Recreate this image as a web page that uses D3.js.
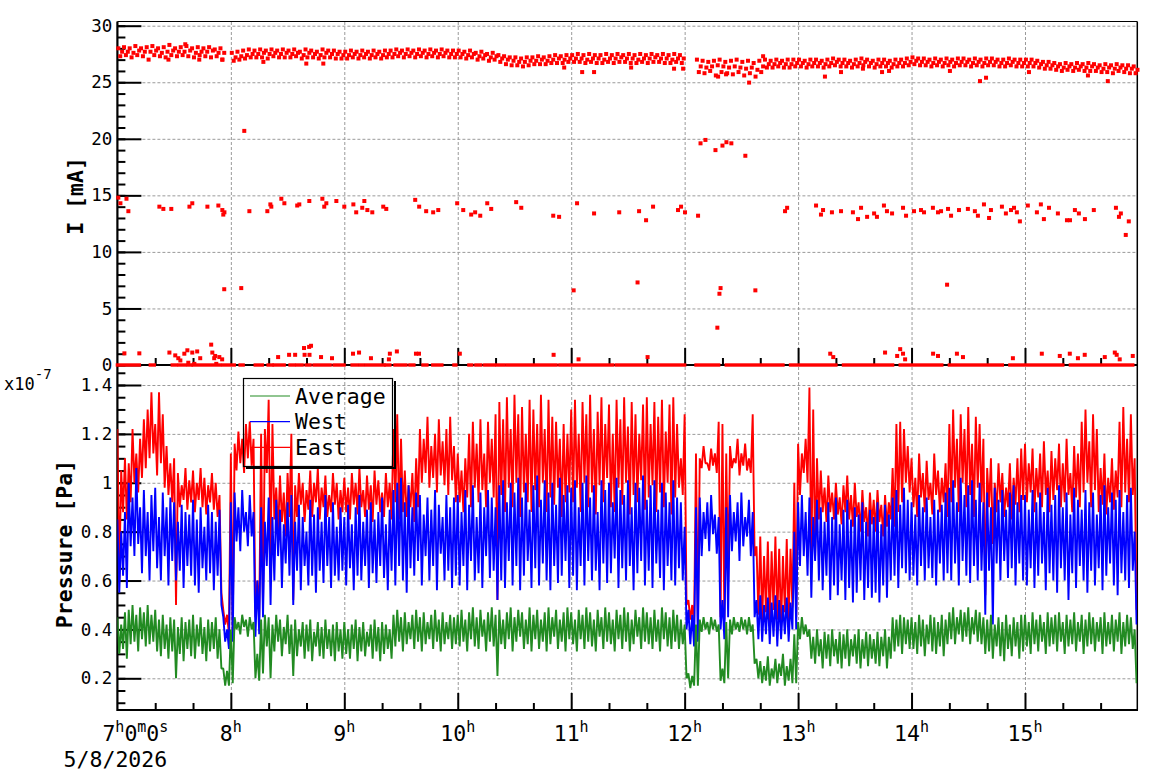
<!DOCTYPE html>
<html>
<head>
<meta charset="utf-8">
<script src="https://d3js.org/d3.v7.min.js"></script>
<style>
body { margin: 0; background: #fff; }
svg { display: block; font-family: "DejaVu Sans Mono", monospace; }
.grid line { stroke: #9a9a9a; stroke-width: 1; stroke-dasharray: 3,2; }
.grid .domain { display: none; }
</style>
</head>
<body>
<div id="chart"></div>
<script>
// time in minutes after 07:00:00, 5/8/2026
const hourTicks = [60, 120, 180, 240, 300, 360, 420, 480];
const hourLabels = ["8", "9", "10", "11", "12", "13", "14", "15"];
const minorTimeTicks = [20, 40, 80, 100, 140, 160, 200, 220, 260, 280, 320, 340, 380, 400, 440, 460, 500, 520];
const currentTicks = [0, 5, 10, 15, 20, 25, 30];
const pressureTicks = [0.2, 0.4, 0.6, 0.8, 1, 1.2, 1.4];

// pressure, 2-minute buckets, max / min of each bucket, in 1e-9 Pa
const eastHi = [
  122,105,110,108,122,112,118,126,130,137, 124,137,128,115,108,110,104,99,106,101, 105,100,106,102,99,104,100,95,48,46,
  112,116,121,118,124,125,118,60,120,122, 134,124,98,103,96,104,120,99,104,100, 97,105,100,106,98,103,95,104,100,97,
  102,98,104,100,106,97,103,99,105,101, 96,104,100,122,128,118,105,99,104,110, 122,118,127,115,120,126,117,122,127,115,
  112,105,110,120,125,116,126,112,125,118, 128,133,126,135,122,136,128,131,120,134, 130,124,136,122,134,127,125,118,124,120,
  130,134,120,133,128,136,122,129,135,124, 132,120,134,126,135,123,133,128,120,132, 135,124,133,127,134,121,132,135,124,110,
  128,52,50,112,110,115,108,114,112,125, 124,112,115,110,118,112,116,110,128,74, 78,70,76,72,78,73,70,77,73,100,
  116,112,118,139,130,110,105,98,103,96, 100,94,99,103,95,100,92,97,90,96, 93,97,91,95,92,106,124,125,122,115,
  110,102,112,104,109,100,112,105,102,108, 124,130,118,128,122,131,116,127,124,118, 106,110,100,108,104,98,108,102,110,114,
  116,108,114,106,112,117,105,113,110,116, 108,118,104,115,112,125,130,117,128,122, 106,112,102,110,105,125,131,118,128,110
];
const eastLo = [
  60,88,85,92,100,96,102,106,110,112, 103,108,98,95,92,50,90,93,89,92, 88,93,90,87,92,89,86,55,42,38,
  40,105,108,104,110,107,45,45,50,104, 70,85,80,84,78,86,52,86,91,84, 89,86,92,85,90,86,88,91,85,88,
  88,85,91,87,90,86,89,84,91,88, 86,90,85,92,85,88,86,90,84,90, 100,104,98,102,96,103,99,95,101,92,
  92,88,94,90,98,92,97,90,100,94, 52,95,88,98,90,100,86,96,92,88, 97,90,100,88,94,91,98,86,92,96,
  92,98,88,100,90,96,87,99,92,102, 90,88,98,91,100,87,95,92,101,89, 94,99,88,96,90,100,87,94,98,95,
  50,44,42,42,106,108,105,107,104,45, 44,60,106,108,103,107,105,104,70,46, 43,47,42,48,44,41,47,43,49,45,
  95,104,100,66,70,85,88,84,88,85, 87,83,88,85,82,86,80,84,78,83, 80,84,78,82,85,82,88,92,100,96,
  90,86,94,88,93,87,95,88,92,86, 92,98,88,100,90,95,86,98,92,54, 90,75,88,92,86,90,85,91,88,93,
  92,96,88,94,90,95,88,93,97,90, 92,95,88,94,90,96,100,90,97,88, 91,87,92,89,94,90,96,92,95,48
];
const westHi = [
  85,80,88,100,94,106,90,97,88,95, 98,86,96,90,94,92,84,91,88,87, 93,85,90,82,91,88,84,89,45,40,
  92,96,90,97,88,95,88,60,90,84, 94,86,93,89,83,92,95,84,91,86, 80,93,87,90,84,95,86,92,82,90,
  86,91,83,90,95,84,89,92,85,88, 94,83,89,97,100,102,92,99,90,96, 95,87,94,89,97,91,86,95,90,94,
  95,88,97,91,99,86,96,90,97,94, 90,99,101,92,100,96,102,94,100,89, 99,103,93,101,96,100,91,102,95,99,
  98,101,90,100,103,94,99,88,101,97, 100,92,102,97,95,101,90,100,98,103, 93,99,101,89,100,96,92,101,94,92,
  82,48,46,90,94,88,92,95,87,86, 52,90,95,88,92,96,86,93,88,52, 54,50,53,51,54,52,50,53,51,80,
  92,95,88,94,86,93,90,84,92,86, 94,83,89,93,85,90,87,92,84,89, 86,92,83,91,87,94,97,91,98,93,
  92,87,95,90,94,86,93,89,91,96, 98,101,92,102,95,99,101,93,100,92, 96,90,98,93,97,89,96,99,92,95,
  95,89,97,92,96,88,98,91,95,99, 90,96,87,98,93,89,97,92,96,87, 95,99,90,96,93,97,88,95,98,80
];
const westLo = [
  55,62,57,74,70,75,63,70,60,72, 65,60,70,58,68,60,64,57,66,62, 58,55,65,60,63,56,62,50,35,32,
  35,76,72,80,74,78,37,38,45,66, 50,60,70,57,67,62,50,64,56,66, 58,62,55,64,59,66,57,62,60,64,
  58,65,56,62,60,66,57,63,59,66, 61,56,64,58,66,60,55,65,62,68, 58,70,60,66,56,71,60,64,57,62,
  58,66,56,68,60,63,57,70,61,64, 52,60,57,68,58,66,56,62,68,57, 65,58,67,60,56,66,59,62,68,57,
  62,56,66,58,68,60,64,56,67,59, 63,69,57,65,60,66,56,63,68,58, 64,57,67,61,56,66,60,58,65,60,
  40,34,33,35,70,77,72,79,71,40, 36,45,72,76,68,74,78,70,45,36, 35,38,34,37,33,36,38,35,40,40,
  66,70,62,53,68,60,56,62,52,58, 54,60,52,57,51,55,60,52,57,53, 55,51,58,53,60,62,57,65,63,60,
  62,58,66,60,65,61,58,67,60,63, 60,67,58,68,62,59,66,60,64,46, 64,42,67,60,68,61,65,58,67,60,
  58,65,57,62,67,56,63,60,55,65, 60,52,63,57,66,60,55,64,58,65, 56,62,67,58,54,63,60,57,64,42
];
const avgHi = [
  45,42,47,48,50,46,49,47,50,46, 48,44,46,42,45,44,41,45,43,44, 46,42,45,41,44,43,45,40,24,23,
  40,45,43,46,44,45,43,30,44,46, 45,42,46,44,41,46,42,44,40,43, 42,44,39,43,41,44,40,42,43,40,
  43,40,42,44,41,43,39,42,44,41, 43,42,40,46,48,45,47,43,46,48, 45,47,43,46,48,44,47,43,46,45,
  46,48,44,47,49,45,48,44,47,49, 46,48,44,47,49,45,48,47,44,49, 46,48,44,47,49,45,48,44,47,49,
  47,44,48,46,49,47,44,48,45,49, 47,44,48,46,49,47,44,48,45,49, 47,45,48,44,49,47,45,48,46,44,
  42,22,21,42,44,45,43,45,44,42, 24,43,44,45,43,45,44,45,42,28, 27,25,29,24,28,26,30,25,28,38,
  43,45,42,40,37,40,36,39,38,40, 36,39,38,40,36,38,40,36,39,38, 36,39,37,40,37,45,44,46,45,44,
  45,43,46,44,42,46,45,43,46,44, 47,49,45,48,47,49,45,48,47,45, 44,46,42,45,43,46,42,45,43,46,
  46,43,47,44,46,43,47,45,46,47, 43,46,44,47,43,46,44,47,45,43, 45,47,43,46,44,47,43,46,45,40
];
const avgLo = [
  30,32,28,34,35,31,36,33,34,35, 31,29,32,28,31,20,30,27,32,29, 28,33,30,27,31,32,28,24,17,17,
  18,40,38,41,37,40,20,19,22,33, 20,31,35,29,34,30,21,29,33,28, 31,27,33,29,28,32,29,27,31,28,
  30,28,32,27,31,29,33,28,31,27, 30,32,28,33,35,31,34,36,32,35, 31,34,36,32,35,31,34,36,32,34,
  33,35,31,36,33,32,37,31,35,33, 21,34,32,36,31,35,37,32,34,31, 36,32,35,31,34,37,32,35,31,36,
  34,31,36,32,35,33,31,37,32,35, 34,31,36,32,35,31,34,37,32,35, 34,32,35,31,36,33,32,35,32,34,
  20,16,17,17,39,40,38,40,39,19, 18,20,38,40,39,40,38,39,26,20, 18,19,17,20,18,21,17,19,18,18,
  36,38,37,28,26,29,24,28,25,29, 26,24,28,25,29,26,24,28,25,28, 26,25,29,24,28,31,33,30,34,32,
  32,30,33,29,34,31,30,33,29,34, 36,34,38,35,37,34,38,35,34,30, 31,28,33,29,27,32,29,33,28,31,
  33,30,34,31,35,30,33,34,31,35, 30,33,34,31,35,30,33,34,31,35, 30,33,34,31,35,30,33,34,32,18
];

// beam current, 3-minute buckets: upper / middle / lower reading of the main band (mA)
const bandHi = [
  28.0,28.1,28.0,28.2,28.0,28.1,28.2,28.0,28.1,28.3, 28.0,28.1,28.2,28.0,28.1,28.0,28.1,27.9,28.0,null,
  27.6,27.7,27.8,27.9,27.8,27.9,27.8,27.9,27.8,27.9, 27.8,27.9,27.7,27.9,27.8,27.7,27.9,27.8,27.8,27.7,
  27.7,27.8,27.7,27.8,27.7,27.8,27.7,27.8,27.8,27.9, 27.8,27.9,27.8,27.9,27.8,27.9,27.8,27.9,27.8,27.8,
  27.8,27.7,27.8,27.6,27.7,27.5,27.6,27.4,27.3,27.2, 27.2,27.1,27.2,27.2,27.3,27.2,27.3,27.4,27.3,27.4,
  27.4,27.5,27.4,27.5,27.4,27.4,27.5,27.4,27.5,27.4, 27.5,27.4,27.5,27.4,27.5,27.4,27.5,27.4,27.5,27.4,
  null,null,27.0,26.9,26.8,26.9,27.0,26.8,26.9,27.0, 26.8,26.9,26.7,26.9,27.0,26.9,27.0,26.9,27.0,27.0,
  27.0,26.9,27.0,27.0,26.9,27.0,27.1,27.0,27.0,26.9, 27.0,27.1,27.0,26.9,27.0,27.0,26.9,27.0,27.0,27.1,
  27.2,27.1,27.1,27.0,27.1,27.0,27.1,27.0,27.1,27.1, 27.0,27.1,27.0,27.1,27.1,27.0,27.0,27.1,27.0,27.0,
  27.0,27.0,26.9,26.8,26.8,26.7,26.6,26.7,26.6,26.7, 26.6,26.7,26.6,26.5,26.6,26.5,26.6,26.5,26.5,26.4
];
const bandMid = [
  27.7,27.7,27.6,27.8,27.7,27.7,27.8,27.6,27.7,27.8, 27.7,27.7,27.8,27.6,27.7,27.7,27.8,27.6,27.6,null,
  27.2,27.3,27.4,27.5,27.5,27.6,27.5,27.6,27.5,27.6, 27.5,27.6,27.4,27.6,27.5,27.4,27.6,27.5,27.5,27.4,
  27.4,27.5,27.4,27.5,27.4,27.5,27.4,27.5,27.5,27.6, 27.5,27.6,27.5,27.6,27.5,27.6,27.5,27.6,27.5,27.5,
  27.5,27.4,27.5,27.3,27.4,27.2,27.3,27.1,27.0,26.9, 26.8,26.8,26.9,26.9,27.0,26.9,27.0,27.1,27.0,27.1,
  27.1,27.1,27.0,27.1,27.1,27.0,27.1,27.1,27.2,27.1, 27.1,27.0,27.1,27.1,27.2,27.1,27.1,27.0,27.1,27.1,
  null,null,26.4,26.3,26.4,26.5,26.4,26.3,26.4,26.3, 26.2,26.3,26.1,26.4,26.6,26.6,26.7,26.6,26.6,26.7,
  26.7,26.6,26.7,26.7,26.6,26.7,26.8,26.7,26.7,26.6, 26.7,26.8,26.7,26.6,26.7,26.7,26.6,26.7,26.7,26.8,
  26.9,26.8,26.8,26.7,26.8,26.7,26.8,26.7,26.8,26.8, 26.7,26.8,26.7,26.8,26.8,26.7,26.7,26.8,26.7,26.7,
  26.7,26.7,26.6,26.5,26.5,26.4,26.3,26.4,26.3,26.4, 26.3,26.4,26.3,26.2,26.3,26.2,26.3,26.2,26.2,26.1
];
const bandLo = [
  27.3,27.4,27.2,27.4,27.3,27.0,27.4,27.3,27.2,27.4, 27.3,27.4,27.3,27.2,27.4,27.3,27.2,27.3,27.0,null,
  26.9,27.0,27.1,27.2,27.2,27.2,27.1,27.3,27.2,27.2, 27.2,27.3,27.1,27.2,27.2,27.1,27.2,27.2,27.1,27.1,
  27.1,27.2,27.1,27.2,27.1,27.2,27.1,27.2,27.2,27.3, 27.2,27.3,27.2,27.3,27.2,27.3,27.2,27.3,27.2,27.2,
  27.2,27.1,27.2,27.0,27.1,26.9,27.0,26.8,26.6,26.5, 26.5,26.4,26.5,26.6,26.6,26.6,26.7,26.7,26.7,26.8,
  26.8,26.8,26.7,26.8,26.7,26.7,26.8,26.7,26.8,26.8, 26.7,26.7,26.8,26.7,26.8,26.8,26.7,26.7,26.8,26.7,
  null,null,25.9,25.8,26.0,25.6,25.9,25.8,25.7,25.9, 25.6,25.8,25.5,25.9,26.3,26.3,26.4,26.3,26.3,26.4,
  26.4,26.3,26.4,26.4,26.3,26.4,26.5,26.4,26.4,26.3, 26.4,26.5,26.4,26.3,26.4,26.4,26.3,26.4,26.4,26.5,
  26.6,26.5,26.5,26.4,26.5,26.4,26.5,26.4,26.5,26.5, 26.4,26.5,26.4,26.5,26.5,26.4,26.4,26.5,26.4,26.4,
  26.4,26.4,26.3,26.2,26.2,26.1,26.0,26.1,26.0,26.1, 26.0,26.0,26.0,25.9,25.9,25.8,26.0,25.9,25.8,25.8
];

// single current readings away from the main band (minute, mA)
const strayTime = [
  0.5,1.6,4.8,5.8,22.2,24.3,28.5,38.1,39.6,47.6,53.4,55.5,56.0,56.6,69.8,79.3,80.9,81.4,86.7,88.3,
  95.1,96.2,101.5,108.4,109.4,110.5,115.8,120.0,124.8,126.3,129.5,130.6,132.2,134.8,140.6,142.2,157.5,159.6,163.3,167.0,
  169.7,179.7,182.9,187.1,189.2,191.9,195.6,197.7,210.9,213.6,230.5,233.6,243.1,252.1,265.4,275.9,279.6,283.3,296.5,298.1,
  300.2,307.1,353.1,354.2,369.5,372.1,373.2,377.9,382.7,389.0,391.7,393.3,396.5,400.2,401.7,405.4,407.0,409.7,415.5,417.1,
  421.3,425.0,426.6,431.3,434.0,435.6,439.3,440.9,445.1,449.8,453.5,455.1,458.3,461.0,462.0,467.8,469.9,472.6,474.2,475.7,
  477.3,481.5,486.3,488.4,490.0,492.7,497.4,502.2,503.8,506.4,508.5,511.7,516.4,528.1,529.7,530.7,533.3,534.9,
  56.5,65.5,67.1,241.3,275.1,308.4,311.0,316.3,318.4,319.0,320.0,322.1,324.7,332.1,317.3,337.4,438.8,
  3.7,11.6,27.5,30.6,32.2,33.3,35.4,37.0,37.5,39.6,42.2,40.7,43.8,49.6,50.2,51.2,51.7,53.9,55.4,52.3,
  85.0,90.8,94.0,98.7,101.4,102.4,99.0,101.6,107.7,113.5,124.6,127.8,134.1,144.1,143.6,147.8,157.9,159.5,181.1,230.7,
  243.9,280.4,377.0,378.6,406.0,412.4,414.0,415.5,416.6,431.4,434.0,444.0,447.2,473.6,488.9,498.4,503.7,508.0,511.6,522.2,
  527.5,528.5,530.1,537.0,
  27.0,35.9,43.3,55.5,99.9,108.9,77.2,236.3,245.8,252.1,271.7,294.4,299.2,334.1,317.7,321.9,374.2,382.7,341.5,394.3,
  404.4,408.1,456.2,459.4,440.3,513.3,523.8,482.1
];
const strayValue = [
  14.8,14.3,14.7,13.6,14.0,13.8,13.8,14.0,14.3,14.0,14.1,13.7,13.3,13.5,13.6,13.6,14.2,14.0,14.7,14.3,
  14.1,14.2,14.5,14.7,14.0,14.3,14.5,14.0,14.2,13.5,13.9,14.5,13.7,13.5,14.0,13.8,14.6,14.0,13.6,13.5,
  13.7,14.3,13.7,13.3,13.5,13.2,14.3,13.8,14.4,13.9,13.2,13.1,14.3,13.4,13.5,13.6,12.8,14.0,13.7,14.0,
  13.5,13.2,13.6,13.9,14.1,13.3,13.7,13.5,13.6,13.5,12.9,13.9,13.1,13.4,13.1,14.1,13.6,13.4,13.9,13.2,
  13.6,13.7,13.5,13.9,13.5,13.6,13.8,13.2,13.7,13.8,13.6,13.2,14.2,13.0,13.7,14.0,13.4,13.7,13.9,13.5,
  12.7,14.1,13.5,14.2,12.9,13.9,13.4,12.8,12.8,13.7,13.4,12.9,13.7,13.9,13.1,13.4,11.5,12.7,
  6.7,6.8,20.7,6.6,7.3,19.6,19.9,19.0,6.3,6.8,19.4,19.7,19.6,18.5,3.3,6.6,7.1,
  1.03,1.03,1.1,0.85,0.6,0.4,1.0,1.3,0.2,1.1,1.2,0.1,0.6,1.8,1.1,0.6,0.8,0.7,0.5,0.1,
  0.7,0.9,0.9,1.5,1.6,1.7,0.9,0.9,0.7,0.6,1.0,1.1,0.6,1.0,0.5,1.2,1.0,1.0,1.0,0.9,
  0.5,0.7,1.0,0.7,1.1,0.8,1.4,1.0,0.5,1.0,0.8,1.0,0.7,0.6,1.0,0.8,1.0,0.6,0.9,0.7,
  1.1,0.9,0.5,0.8,
  27.0,28.36,27.0,27.0,26.65,26.65,26.8,26.3,25.9,25.9,26.3,26.2,26.2,24.97,25.5,25.7,25.5,25.9,27.3,26.2,
  25.9,26.0,25.1,25.4,26.0,25.6,25.1,25.9
];

// runs of zero-current readings (start minute, end minute)
const zeroStart = [0, 17.4, 29, 32.7, 37.5, 40.1, 56, 64.9, 72.9, 79.7, 82.9, 91.3, 95, 99.8, 104, 114.6, 124.1, 128.3, 131.5, 142,
  146.8, 154.7, 161.6, 166.8, 178, 185.9, 189.6, 194.3, 200.6, 206, 234, 264, 306, 322, 356, 384, 414, 440, 472, 504];
const zeroEnd = [11.6, 19.5, 31.2, 35.9, 39, 54.4, 61.8, 66.5, 76.6, 81.8, 88.2, 93.5, 97.7, 101.9, 112.5, 119.9, 126.7, 129.9, 141, 144.1,
  152.6, 156.8, 163.7, 171.6, 179, 187.4, 192.2, 199.1, 204.3, 232, 262, 300, 318, 352, 380, 410, 436, 468, 500, 537];

const series = [
  { name: "East", color: "#ff0000", hi: eastHi, lo: eastLo },
  { name: "West", color: "#0000ff", hi: westHi, lo: westLo },
  { name: "Average", color: "#228b22", hi: avgHi, lo: avgLo }
];
const legendOrder = ["Average", "West", "East"];

const W = 1158, H = 782;
const X0 = 117.4, X1 = 1137.3;
const TOP = 21.5, MID = 365, BOT = 710;

const x = d3.scaleLinear().domain([0, 539.4]).range([X0, X1]);
const yI = d3.scaleLinear().domain([0, 30]).range([MID, 25.7]);
const yP = d3.scaleLinear().domain([0.2, 1.4]).range([678.3, 385]);

const svg = d3.select("#chart").append("svg")
    .attr("width", W)
    .attr("height", H);

svg.append("defs").append("clipPath").attr("id", "pclip")
    .append("rect").attr("x", X0).attr("y", MID).attr("width", X1 - X0).attr("height", BOT - MID);

// grids
svg.append("g").attr("class", "grid")
    .attr("transform", `translate(${X0},0)`)
    .call(d3.axisLeft(yI).tickValues([5, 10, 15, 20, 25, 30]).tickSize(-(X1 - X0)).tickFormat(""));
svg.append("g").attr("class", "grid")
    .attr("transform", `translate(0,${MID})`)
    .call(d3.axisBottom(x).tickValues(hourTicks).tickSize(-(MID - TOP)).tickFormat(""));
svg.append("g").attr("class", "grid")
    .attr("transform", `translate(${X0},0)`)
    .call(d3.axisLeft(yP).tickValues(pressureTicks).tickSize(-(X1 - X0)).tickFormat(""));
svg.append("g").attr("class", "grid")
    .attr("transform", `translate(0,${BOT})`)
    .call(d3.axisBottom(x).tickValues(hourTicks).tickSize(-(BOT - MID)).tickFormat(""));

// axes
function styleAxis(g) {
    g.select(".domain").remove();
    g.selectAll("line").attr("stroke", "#000").attr("stroke-width", 2);
    g.attr("font-family", null).attr("font-size", 17.5);
    g.selectAll("text").attr("fill", "#000");
}

svg.append("g").attr("transform", `translate(${X0},0)`)
    .call(d3.axisLeft(yI).tickValues(d3.range(0, 31)).tickSize(-8).tickFormat(""))
    .call(styleAxis);
svg.append("g").attr("transform", `translate(${X0},0)`)
    .call(d3.axisLeft(yI).tickValues(currentTicks).tickSize(-24).tickPadding(5).tickFormat(d => d))
    .call(styleAxis);

svg.append("g").attr("transform", `translate(${X0},0)`)
    .call(d3.axisLeft(yP).tickValues(d3.range(2, 30).map(d => d * 0.05)).tickSize(-8).tickFormat(""))
    .call(styleAxis);
svg.append("g").attr("transform", `translate(${X0},0)`)
    .call(d3.axisLeft(yP).tickValues(pressureTicks).tickSize(-24).tickPadding(5)
        .tickFormat(d => d === 1 ? "1" : d.toFixed(1)))
    .call(styleAxis);

[MID, BOT].forEach(yy => {
    svg.append("g").attr("transform", `translate(0,${yy})`)
        .call(d3.axisBottom(x).tickValues(minorTimeTicks).tickSize(-7).tickFormat(""))
        .call(styleAxis);
    svg.append("g").attr("transform", `translate(0,${yy})`)
        .call(d3.axisBottom(x).tickValues(hourTicks).tickSize(-17).tickFormat(""))
        .call(styleAxis);
});

// frame
const frame = svg.append("g").attr("stroke", "#000").attr("fill", "none");
frame.append("line").attr("x1", X0).attr("x2", X1).attr("y1", TOP).attr("y2", TOP).attr("stroke-width", 1);
frame.append("line").attr("x1", X1).attr("x2", X1).attr("y1", TOP).attr("y2", BOT).attr("stroke-width", 1.5);
frame.append("line").attr("x1", X0).attr("x2", X0).attr("y1", TOP).attr("y2", BOT + 1).attr("stroke-width", 2.2);
frame.append("line").attr("x1", X0).attr("x2", X1).attr("y1", MID).attr("y2", MID).attr("stroke-width", 2.2);
frame.append("line").attr("x1", X0).attr("x2", X1 + 0.7).attr("y1", BOT).attr("y2", BOT).attr("stroke-width", 2.2);

// time labels
const tl = svg.append("g").attr("font-size", 21.5).attr("fill", "#000");
hourTicks.forEach((t, i) => {
    const txt = tl.append("text").attr("x", x(t)).attr("y", 741).attr("text-anchor", "middle");
    txt.append("tspan").text(hourLabels[i]);
    txt.append("tspan").attr("font-size", 15).attr("dy", -9).text("h");
});
const first = tl.append("text").attr("x", x(0) - 15).attr("y", 741);
[["7", "h"], ["0", "m"], ["0", "s"]].forEach(([n, u]) => {
    first.append("tspan").attr("font-size", 21.5).attr("dy", u === "h" ? 0 : 9).text(n);
    first.append("tspan").attr("font-size", 15).attr("dy", -9).text(u);
});
tl.append("text").attr("x", x(0) - 2).attr("y", 767).attr("text-anchor", "middle").text("5/8/2026");

// exponent
const ex = svg.append("text").attr("x", 4).attr("y", 390).attr("font-size", 17).attr("fill", "#000");
ex.append("tspan").text("x10");
ex.append("tspan").attr("font-size", 14).attr("dy", -11).text("-7");

// axis titles
svg.append("text").attr("transform", "translate(83,196) rotate(-90)")
    .attr("text-anchor", "middle").attr("font-weight", "bold").attr("font-size", 21.5).text("I [mA]");
svg.append("text").attr("transform", "translate(72,544) rotate(-90)")
    .attr("text-anchor", "middle").attr("font-weight", "bold").attr("font-size", 21.5).text("Pressure [Pa]");

// pressure traces: max and min of each bucket joined in time order
const line = d3.line().x(d => x(d[0])).y(d => yP(d[1]));
const traces = svg.append("g").attr("clip-path", "url(#pclip)");
series.forEach(s => {
    const pts = [];
    s.hi.forEach((h, i) => {
        pts.push([2 * i, h / 100]);
        pts.push([2 * i + 1, s.lo[i] / 100]);
    });
    traces.append("path").datum(pts)
        .attr("fill", "none")
        .attr("stroke", s.color)
        .attr("stroke-width", 1.9)
        .attr("stroke-linejoin", "bevel")
        .attr("d", line);
});

// current points
const pts = [];
bandHi.forEach((h, k) => {
    if (h === null) return;
    pts.push({ t: 3 * k + 0.5, v: h });
    pts.push({ t: 3 * k + 1.5, v: bandLo[k] });
    pts.push({ t: 3 * k + 2.5, v: bandMid[k] });
});
strayTime.forEach((t, i) => pts.push({ t: t, v: strayValue[i] }));

const cur = svg.append("g").attr("fill", "#ff0000");
cur.selectAll(".zero").data(zeroStart).join("rect")
    .attr("class", "zero")
    .attr("x", (d, i) => x(d) - 1.7)
    .attr("width", (d, i) => x(zeroEnd[i]) - x(d) + 3.4)
    .attr("y", yI(0) - 1.7)
    .attr("height", 3.4);
cur.selectAll(".pt").data(pts).join("rect")
    .attr("class", "pt")
    .attr("x", d => x(d.t) - 2)
    .attr("y", d => yI(d.v) - 2)
    .attr("width", 4)
    .attr("height", 4);

// legend
const lg = svg.append("g");
lg.append("path")
    .attr("d", "M395,381V468H246")
    .attr("fill", "none").attr("stroke", "#000").attr("stroke-width", 2);
lg.append("rect").attr("x", 243.5).attr("y", 378.5).attr("width", 149).attr("height", 88)
    .attr("fill", "none").attr("stroke", "#000").attr("stroke-width", 1.2);
legendOrder.forEach((name, i) => {
    const s = series.find(d => d.name === name);
    const yy = 396 + i * 25.7;
    lg.append("line").attr("x1", 250).attr("x2", 290).attr("y1", yy).attr("y2", yy)
        .attr("stroke", s.color).attr("stroke-width", 1.2);
    lg.append("text").attr("x", 295).attr("y", yy).attr("dy", "0.36em")
        .attr("font-size", 21.5).attr("fill", "#000").text(name);
});
</script>
</body>
</html>
